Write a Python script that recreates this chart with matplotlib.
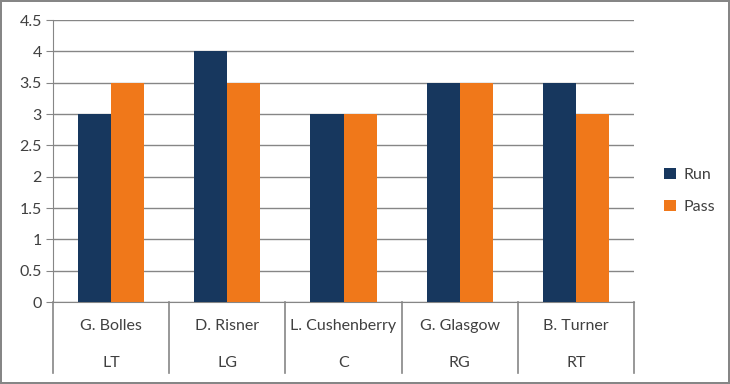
import numpy as np
import matplotlib.pyplot as plt
from matplotlib.ticker import FuncFormatter
import matplotlib.transforms as mtransforms

players = ['G. Bolles', 'D. Risner', 'L. Cushenberry', 'G. Glasgow', 'B. Turner']
positions = ['LT', 'LG', 'C', 'RG', 'RT']
run = [3, 4, 3, 3.5, 3.5]
pass_ = [3.5, 3.5, 3, 3.5, 3]

plt.rcParams['font.family'] = ['Lato', 'DejaVu Sans']
text_color = '#404040'
line_color = '#868686'

fig = plt.figure(figsize=(7.3, 3.84), dpi=100, linewidth=1.5, edgecolor=line_color)
W, H = 730, 384
ax = fig.add_axes([53 / W, (H - 302) / H, (634 - 53) / W, (302 - 20) / H])

x = np.arange(len(players))
bw = 0.285
ax.bar(x - bw / 2, run, bw, color='#17375E', label='Run', zorder=3)
ax.bar(x + bw / 2, pass_, bw, color='#F0781A', label='Pass', zorder=3)

ax.set_xlim(-0.5, len(players) - 0.5)
ax.set_ylim(0, 4.5)
ax.set_yticks(np.arange(0, 4.51, 0.5))
ax.yaxis.set_major_formatter(FuncFormatter(lambda v, p: f'{v:g}'))
ax.tick_params(axis='y', length=5, color=line_color, labelcolor=text_color,
               labelsize=11.5, pad=3)
ax.set_xticks([])
ax.grid(axis='y', color=line_color, linewidth=1, zorder=0)

for s in ['top', 'right']:
    ax.spines[s].set_visible(False)
ax.spines['left'].set_color(line_color)
ax.spines['bottom'].set_color(line_color)

# two-level category axis
trans = mtransforms.blended_transform_factory(ax.transData, ax.transAxes)
sep_bottom = -(373 - 302) / 282
for b in np.arange(-0.5, len(players), 1.0):
    ax.plot([b, b], [0, sep_bottom], color=line_color, linewidth=1.2,
            transform=trans, clip_on=False)
for i in range(len(players)):
    ax.text(i, -(326 - 302) / 282, players[i], transform=trans, ha='center',
            va='center', fontsize=11.5, color=text_color)
    ax.text(i, -(363 - 302) / 282, positions[i], transform=trans, ha='center',
            va='center', fontsize=11.5, color=text_color)

fig.legend(loc='center left', bbox_to_anchor=(650 / W, 1 - 191 / H), frameon=False,
           fontsize=11.5, handlelength=0.7, handleheight=0.7, labelspacing=1.1,
           handletextpad=0.5, labelcolor=text_color)

fig.savefig('out.png', dpi=100, edgecolor=line_color)
